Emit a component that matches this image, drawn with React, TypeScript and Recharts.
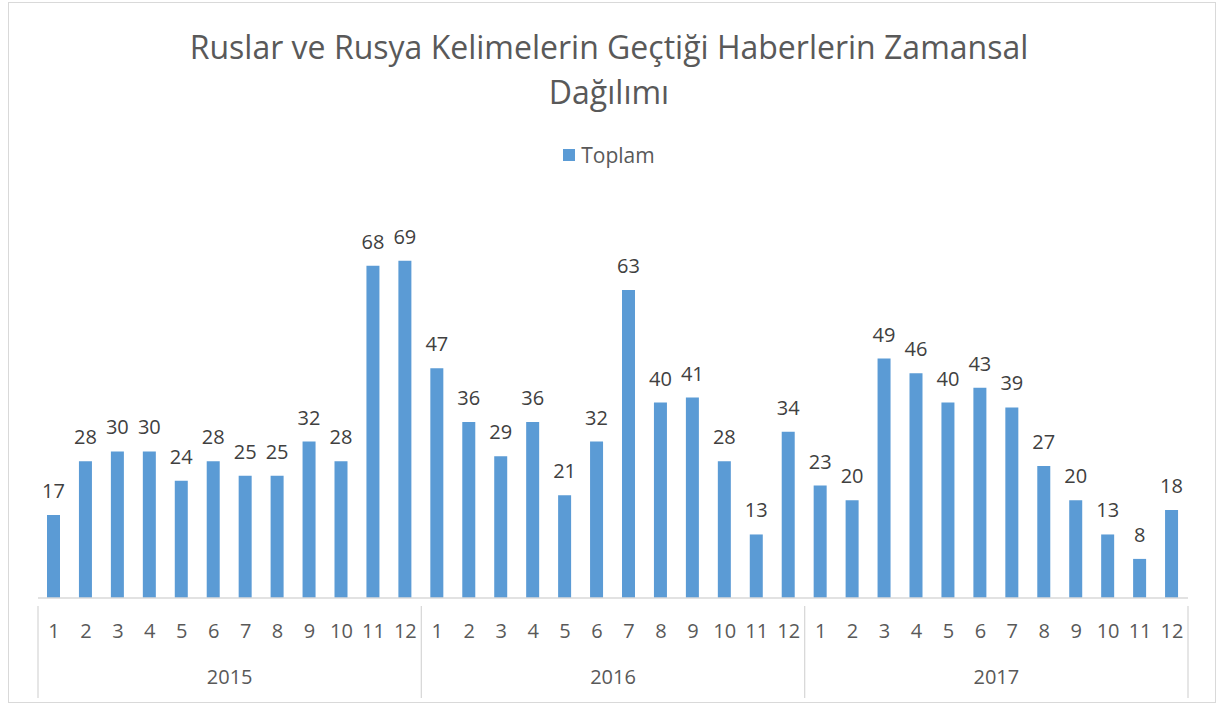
import { BarChart, Bar, XAxis, YAxis, LabelList } from 'recharts';

const years = ['2015', '2016', '2017'];
const months = ['1', '2', '3', '4', '5', '6', '7', '8', '9', '10', '11', '12'];
const toplam2015 = [17, 28, 30, 30, 24, 28, 25, 25, 32, 28, 68, 69];
const toplam2016 = [47, 36, 29, 36, 21, 32, 63, 40, 41, 28, 13, 34];
const toplam2017 = [23, 20, 49, 46, 40, 43, 39, 27, 20, 13, 8, 18];

const perYear = [toplam2015, toplam2016, toplam2017];
const data = years.flatMap((y, yi) =>
  months.map((m, mi) => ({ key: `${y}-${m}`, year: y, month: m, toplam: perYear[yi][mi] }))
);

const FONT = '"Open Sans", "Noto Sans", sans-serif';
const GRID = '#d9d9d9';
const BLUE = '#5b9bd5';

function MonthTick({ x, y, index, payload }: any) {
  const item = data[index];
  const step = 1150 / data.length;
  const left = x - step / 2;
  const right = x + step / 2;
  const mi = index % 12;
  return (
    <g>
      {mi === 0 && <line x1={left} y1={y} x2={left} y2={y + 92} stroke={GRID} strokeWidth={1.3} />}
      {index === data.length - 1 && <line x1={right} y1={y} x2={right} y2={y + 92} stroke={GRID} strokeWidth={1.3} />}
      <text x={x} y={y + 32} textAnchor="middle" fill="#595959" fontSize={20} fontFamily={FONT}>
        {item ? item.month : payload.value}
      </text>
      {mi === 5 && (
        <text x={right} y={y + 78} textAnchor="middle" fill="#595959" fontSize={20} fontFamily={FONT}>
          {item.year}
        </text>
      )}
    </g>
  );
}

export default function App() {
  return (
    <div style={{ position: 'absolute', left: 0, top: 0, width: 1218, height: 704, background: '#fff' }}>
      <div
        style={{
          position: 'absolute',
          left: 8,
          top: 2,
          width: 1206,
          height: 699,
          border: `1.5px solid ${GRID}`,
        }}
      />
      <div
        style={{
          position: 'absolute',
          left: 0,
          top: 24,
          width: 1218,
          textAlign: 'center',
          fontFamily: FONT,
          fontSize: 32,
          lineHeight: '45px',
          color: '#595959',
        }}
      >
        Ruslar ve Rusya Kelimelerin Geçtiği Haberlerin Zamansal
        <br />
        Dağılımı
      </div>
      <div
        style={{
          position: 'absolute',
          left: 0,
          top: 141,
          width: 1218,
          display: 'flex',
          alignItems: 'center',
          justifyContent: 'center',
          fontFamily: FONT,
          fontSize: 21,
          lineHeight: '28px',
          color: '#595959',
        }}
      >
        <span style={{ display: 'inline-block', width: 12, height: 12, background: BLUE, marginRight: 6 }} />
        Toplam
      </div>
      <div style={{ position: 'absolute', left: 0, top: 0 }}>
        <BarChart width={1218} height={704} data={data} margin={{ top: 207, right: 30, bottom: 0, left: 38 }} barCategoryGap={0}>
          <XAxis
            dataKey="key"
            interval={0}
            tickLine={false}
            axisLine={{ stroke: GRID, strokeWidth: 1.3 }}
            tick={<MonthTick />}
            height={106}
          />
          <YAxis hide domain={[0, 80]} />
          <Bar dataKey="toplam" name="Toplam" fill={BLUE} barSize={13} isAnimationActive={false}>
            <LabelList dataKey="toplam" position="top" offset={17} fill="#404040" fontSize={20} fontFamily={FONT} />
          </Bar>
        </BarChart>
      </div>
    </div>
  );
}
